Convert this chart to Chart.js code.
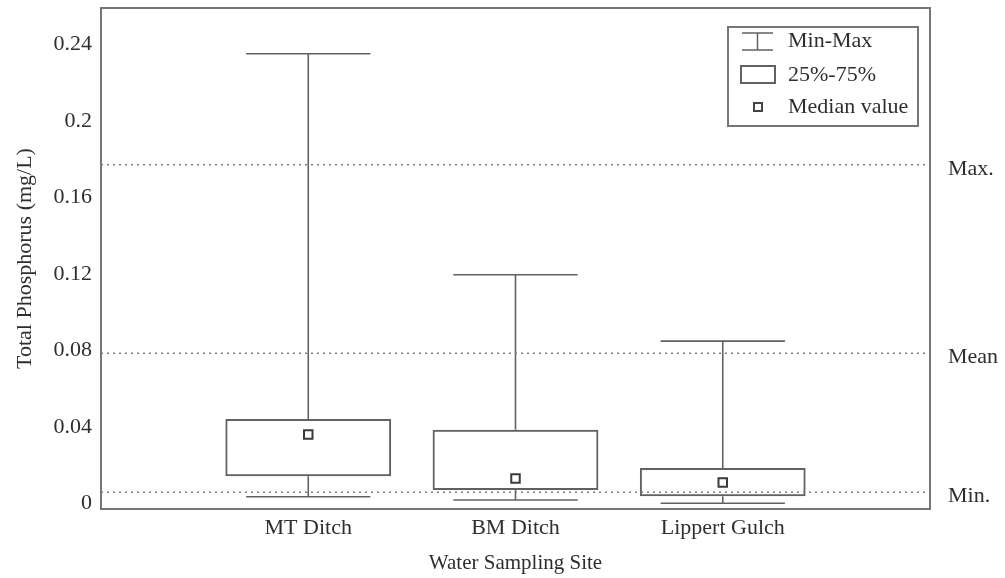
<!DOCTYPE html>
<html>
<head>
<meta charset="utf-8">
<title>Total Phosphorus by Water Sampling Site</title>
<script src="https://cdn.jsdelivr.net/npm/chart.js@4.4.1/dist/chart.umd.min.js"></script>
<style>
  html, body { margin: 0; padding: 0; background: #fff; }
  #wrap { width: 1005px; height: 578px; position: relative; }
</style>
</head>
<body>
<div id="wrap"><canvas id="tp-chart"></canvas></div>
<script>
// data (mg/L)
const sites = ["MT Ditch", "BM Ditch", "Lippert Gulch"];
const sitePos = [1, 2, 3];
const minVals = [0.0034, 0.0017, 0.0];
const q1Vals = [0.0141, 0.0069, 0.0037];
const medianVals = [0.0360, 0.0129, 0.0109];
const q3Vals = [0.0441, 0.0384, 0.0185];
const maxVals = [0.2351, 0.1195, 0.0848];
const refNames = ["Max.", "Mean", "Min."];
const refVals = [0.177, 0.0785, 0.0058];
const yTicks = [0, 0.04, 0.08, 0.12, 0.16, 0.2, 0.24];

const xMin = 0, xMax = 4;
const capHalf = 0.3;
const lineCol = "#626262";
const textCol = "#2e2e2e";
const serif = "'Liberation Serif', 'Times New Roman', serif";

Chart.defaults.font.family = serif;
Chart.defaults.color = textCol;

const whiskerData = sitePos.flatMap((x, i) => [
  {x: x, y: q3Vals[i]}, {x: x, y: maxVals[i]}, {x: x, y: null},
  {x: x, y: minVals[i]}, {x: x, y: q1Vals[i]}, {x: x, y: null}
]);
const capData = sitePos.flatMap((x, i) => [
  {x: x - capHalf, y: maxVals[i]}, {x: x + capHalf, y: maxVals[i]}, {x: x, y: null},
  {x: x - capHalf, y: minVals[i]}, {x: x + capHalf, y: minVals[i]}, {x: x, y: null}
]);
const refData = refVals.flatMap(v => [{x: xMin, y: v}, {x: xMax, y: v}, {x: xMin, y: null}]);

// frame, reference labels on the right, and the boxed key
const extras = {
  id: "extras",
  afterDraw(chart) {
    const ctx = chart.ctx, a = chart.chartArea, y = chart.scales.y;
    ctx.save();
    ctx.strokeStyle = "#767676";
    ctx.lineWidth = 2;
    ctx.strokeRect(a.left, a.top, a.right - a.left, a.bottom - a.top);

    ctx.fillStyle = textCol;
    ctx.font = "22px " + serif;
    ctx.textBaseline = "middle";
    ctx.textAlign = "left";
    refNames.forEach((n, i) => {
      ctx.fillText(n, a.right + 18, y.getPixelForValue(refVals[i]) + 4);
    });

    // key
    ctx.fillStyle = "#fff";
    ctx.fillRect(728, 27, 190, 99);
    ctx.strokeStyle = "#767676";
    ctx.lineWidth = 2;
    ctx.strokeRect(728, 27, 190, 99);
    ctx.strokeStyle = lineCol;
    ctx.lineWidth = 1.5;
    ctx.beginPath();
    ctx.moveTo(742, 33); ctx.lineTo(773, 33);
    ctx.moveTo(742, 50); ctx.lineTo(773, 50);
    ctx.moveTo(757.5, 33); ctx.lineTo(757.5, 50);
    ctx.stroke();
    ctx.lineWidth = 2;
    ctx.strokeRect(741, 66, 34, 17);
    ctx.strokeStyle = "#444";
    ctx.strokeRect(754, 103, 8, 8);
    ctx.fillStyle = textCol;
    ctx.fillText("Min-Max", 788, 41);
    ctx.fillText("25%-75%", 788, 75);
    ctx.fillText("Median value", 788, 107);
    ctx.restore();
  }
};

new Chart(document.getElementById("tp-chart"), {
  type: "bar",
  data: {
    datasets: [{
      label: "25%-75%",
      data: sitePos.map((x, i) => ({x: x, y: [q1Vals[i], q3Vals[i]]})),
      backgroundColor: "rgba(255,255,255,0)",
      borderColor: lineCol,
      borderWidth: 2,
      borderSkipped: false,
      barPercentage: 0.8,
      categoryPercentage: 1,
      order: 5
    }, {
      type: "line",
      label: "Min-Max",
      data: whiskerData,
      borderColor: lineCol,
      borderWidth: 1.6,
      pointRadius: 0,
      spanGaps: false,
      fill: false,
      order: 4
    }, {
      type: "line",
      label: "caps",
      data: capData,
      borderColor: lineCol,
      borderWidth: 1.6,
      pointRadius: 0,
      spanGaps: false,
      fill: false,
      order: 4
    }, {
      type: "line",
      label: "reference",
      data: refData,
      borderColor: "#7e7e7e",
      borderWidth: 1.5,
      borderDash: [2, 4],
      pointRadius: 0,
      spanGaps: false,
      fill: false,
      order: 2
    }, {
      type: "line",
      label: "Median value",
      data: sitePos.map((x, i) => ({x: x, y: medianVals[i]})),
      showLine: false,
      pointStyle: "rect",
      pointRadius: 6,
      pointBorderWidth: 2,
      pointBackgroundColor: "#fff",
      pointBorderColor: "#3a3a3a",
      order: 1
    }]
  },
  options: {
    responsive: true,
    maintainAspectRatio: false,
    animation: false,
    events: [],
    layout: { padding: { top: 5, right: 75, bottom: 0, left: 0 } },
    plugins: { legend: { display: false }, tooltip: { enabled: false } },
    scales: {
      x: {
        type: "linear",
        min: xMin,
        max: xMax,
        offset: false,
        grid: { display: false, drawTicks: false },
        border: { display: false },
        afterBuildTicks: s => { s.ticks = sitePos.map(v => ({value: v})); },
        afterFit: s => { s.height = 69; s.paddingLeft = 0; s.paddingRight = 0; },
        ticks: {
          padding: 6,
          maxRotation: 0,
          font: { size: 22 },
          callback: v => sites[sitePos.indexOf(v)] || ""
        },
        title: {
          display: true,
          text: "Water Sampling Site",
          font: { size: 21 },
          padding: { top: 0, bottom: 2 }
        }
      },
      y: {
        min: -0.003,
        max: 0.259,
        grid: { display: false, drawTicks: false },
        border: { display: false },
        afterBuildTicks: s => { s.ticks = yTicks.map(v => ({value: v})); },
        afterFit: s => { s.width = 101; s.paddingTop = 0; s.paddingBottom = 0; },
        ticks: {
          padding: 9,
          font: { size: 22 },
          callback: v => String(+v.toFixed(2))
        },
        title: {
          display: true,
          text: "Total Phosphorus (mg/L)",
          font: { size: 22 },
          padding: { top: 12, bottom: 0 }
        }
      }
    }
  },
  plugins: [extras]
});
</script>
</body>
</html>
